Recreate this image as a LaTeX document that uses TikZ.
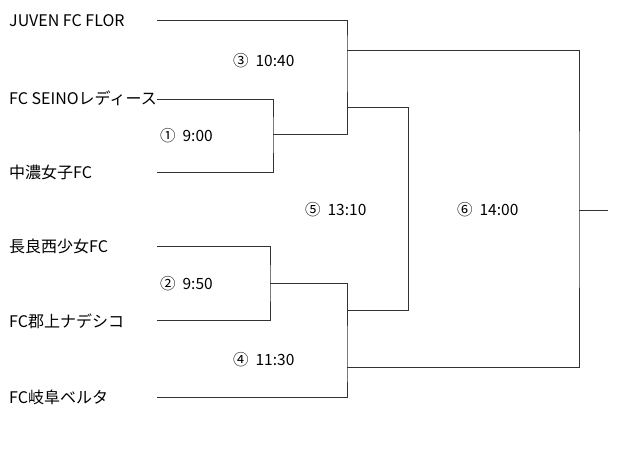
\documentclass[tikz,border=0pt]{standalone}
\usepackage{fontspec}
\setmainfont{Noto Sans CJK JP}
\begin{document}
\begin{tikzpicture}[x=1pt,y=-1pt,
  team/.style={anchor=west,inner sep=0pt,font=\fontsize{16}{18}\selectfont},
  time/.style={anchor=west,inner sep=0pt,font=\fontsize{15.5}{18}\selectfont},
  ln/.style={draw=black!80,line width=0.8pt}]
\useasboundingbox (0,0) rectangle (630,454);
% teams
\node[team] (t1) at (9,21) {JUVEN FC FLOR};
\node[team] (t2) at (9,98) {FC SEINOレディース};
\node[team] (t3) at (9,172) {中濃女子FC};
\node[team] (t4) at (9,246) {長良西少女FC};
\node[team] (t5) at (9,321) {FC郡上ナデシコ};
\node[team] (t6) at (9,397) {FC岐阜ベルタ};
% coordinates
\coordinate (a1) at (157,20);
\coordinate (a2) at (157,99);
\coordinate (a3) at (157,172);
\coordinate (a4) at (157,246);
\coordinate (a5) at (157,320);
\coordinate (a6) at (157,397);
\coordinate (m1) at (273,134);
\coordinate (m2) at (270,283);
\coordinate (m3) at (347,50);
\coordinate (m4) at (347,367);
\coordinate (m5) at (347,107);
\coordinate (m5b) at (347,310);
\coordinate (s5) at (408,107);
\coordinate (f) at (579,210);
\coordinate (w) at (608,210);
% bracket lines
\draw[ln] (a2) -| (m1) |- (a3);
\draw[ln] (a4) -| (m2) |- (a5);
\draw[ln] (a1) -| (m3) |- (m1);
\draw[ln] (m2) -| (m4) |- (a6);
\draw[ln] (m5) -| (s5) |- (m5b);
\draw[ln] (m3) -| (f) |- (m4);
\draw[ln] (f) -- (w);
% times
\node[time] (g3) at (233,61) {③\ \ 10:40};
\node[time] (g1) at (160,136) {①\ \ 9:00};
\node[time] (g5) at (305,210) {⑤\ \ 13:10};
\node[time] (g6) at (457,210) {⑥\ \ 14:00};
\node[time] (g2) at (160,284) {②\ \ 9:50};
\node[time] (g4) at (233,360) {④\ \ 11:30};
\end{tikzpicture}
\end{document}
